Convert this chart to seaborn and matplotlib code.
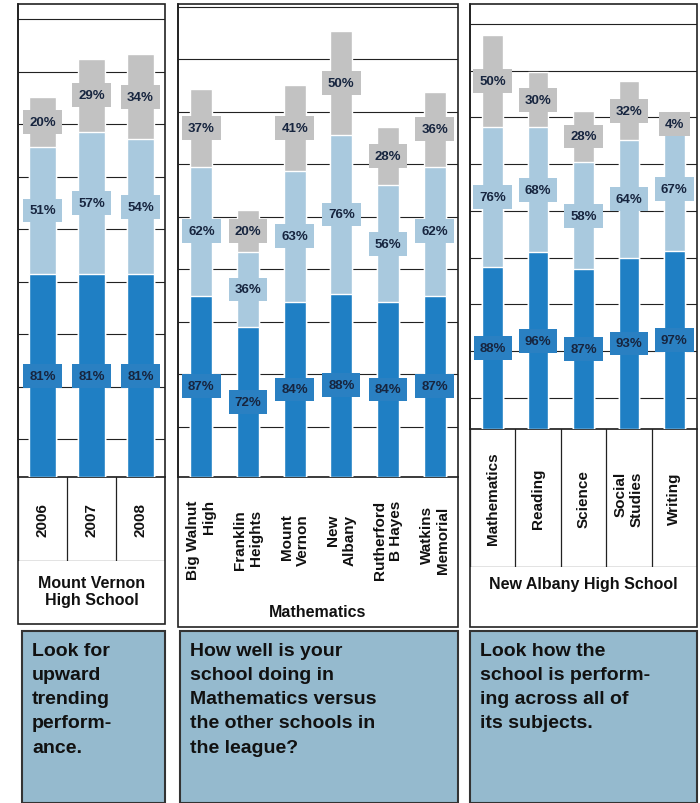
import matplotlib

matplotlib.use("Agg")
import matplotlib.pyplot as plt
import numpy as np
import pandas as pd
import seaborn as sns
from matplotlib.patches import Rectangle

sns.set_theme(style="white")
plt.rcParams["font.family"] = ["Liberation Sans", "DejaVu Sans"]

W, H = 700, 804
DARK, LIGHT, GRAY = "#1f7fc4", "#a9c9de", "#c2c2c2"
TXT = "#17253f"
BOXFILL = "#95bace"

years = ["2006", "2007", "2008"]
mv_base = [81, 81, 81]
mv_mid = [51, 57, 54]
mv_top = [20, 29, 34]

schools = ["Big Walnut\nHigh", "Franklin\nHeights", "Mount\nVernon", "New\nAlbany",
           "Rutherford\nB Hayes", "Watkins\nMemorial"]
math_base = [87, 72, 84, 88, 84, 87]
math_mid = [62, 36, 63, 76, 56, 62]
math_top = [37, 20, 41, 50, 28, 36]

subjects = ["Mathematics", "Reading", "Science", "Social\nStudies", "Writing"]
na_base = [88, 96, 87, 93, 97]
na_mid = [76, 68, 58, 64, 67]
na_top = [50, 30, 28, 32, 4]

notes = [
    "Look for\nupward\ntrending\nperform-\nance.",
    "How well is your\nschool doing in\nMathematics versus\nthe other schools in\nthe league?",
    "Look how the\nschool is perform-\ning across all of\nits subjects.",
]


def rect(x0, y0, x1, y1):
    return [x0 / W, 1 - y1 / H, (x1 - x0) / W, (y1 - y0) / H]


fig = plt.figure(figsize=(7, 8.04), dpi=100)


def panel(cats, base, mid, top, plot_box, ymax, grid0, gstep, width, lab_box, seps, title, title_y, frame):
    x0, y0, x1, y1 = frame
    fig.patches.append(Rectangle((x0 / W, 1 - y1 / H), (x1 - x0) / W, (y1 - y0) / H,
                                 transform=fig.transFigure, fill=False, ec="#222222", lw=1.2))
    ax = fig.add_axes(rect(*plot_box))
    df = pd.DataFrame({"cat": cats, "b": base, "m": mid, "t": top})
    df["bm"] = df["b"] + df["m"]
    df["bmt"] = df["bm"] + df["t"]
    for col, c in [("bmt", GRAY), ("bm", LIGHT), ("b", DARK)]:
        sns.barplot(data=df, x="cat", y=col, color=c, width=width, ax=ax, saturation=1, zorder=3)
    for i, r in df.iterrows():
        for lo, v, c in [(0, r["b"], "#2a80c2"), (r["b"], r["m"], LIGHT), (r["bm"], r["t"], GRAY)]:
            ax.text(i, lo + v / 2, f"{v}%", ha="center", va="center", fontsize=9.5,
                    fontweight="bold", color=TXT, zorder=5,
                    bbox=dict(boxstyle="square,pad=0.45", fc=c, ec="none"))
    ax.set_ylim(0, ymax)
    for g in np.arange(grid0, ymax, gstep):
        ax.axhline(g, color="#222222", lw=0.8, zorder=1)
    ax.set_xlim(-0.5, len(cats) - 0.5)
    ax.set_xticks([])
    ax.set_yticks([])
    ax.set_xlabel("")
    ax.set_ylabel("")
    for s in ["top", "right"]:
        ax.spines[s].set_visible(False)
    ax.spines["left"].set_color("#222222")
    ax.spines["bottom"].set_color("#222222")

    lx = fig.add_axes(rect(*lab_box))
    lx.set_xlim(-0.5, len(cats) - 0.5)
    lx.set_ylim(0, 1)
    lx.axis("off")
    for i, c in enumerate(cats):
        lx.text(i, 0.5, c, rotation=90, ha="center", va="center", fontsize=11,
                fontweight="bold", color="#111111", multialignment="right")
    if seps:
        for k in range(len(cats) + 1):
            lx.axvline(k - 0.5, color="#222222", lw=0.9)
        lx.axhline(0, color="#222222", lw=0.9)
    fig.text((x0 + x1) / 2 / W, 1 - title_y / H, title, ha="center", va="center",
             fontsize=11.5, fontweight="bold", color="#111111")


panel(years, mv_base, mv_mid, mv_top, (18, 5, 165, 478), 189, 15, 21, 0.55,
      (18, 478, 165, 562), True, "Mount Vernon\nHigh School", 592, (18, 5, 165, 625))
panel(schools, math_base, math_mid, math_top, (178, 5, 458, 478), 227, 24, 25.2, 0.47,
      (178, 480, 458, 600), False, "Mathematics", 613, (178, 5, 458, 628))
panel(subjects, na_base, na_mid, na_top, (470, 5, 697, 430), 231, 17, 25.4, 0.45,
      (470, 430, 697, 568), True, "New Albany High School", 585, (470, 5, 697, 628))

for (x0, x1), note in zip([(22, 165), (180, 458), (470, 697)], notes):
    fig.patches.append(Rectangle((x0 / W, 0), (x1 - x0) / W, (804 - 632) / H,
                                 transform=fig.transFigure, fc=BOXFILL, ec="#333333", lw=1.5))
    fig.text((x0 + 10) / W, 1 - 643 / H, note, ha="left", va="top", fontsize=14,
             fontweight="bold", color="#111111", linespacing=1.55)

fig.savefig("out.png", dpi=100)
